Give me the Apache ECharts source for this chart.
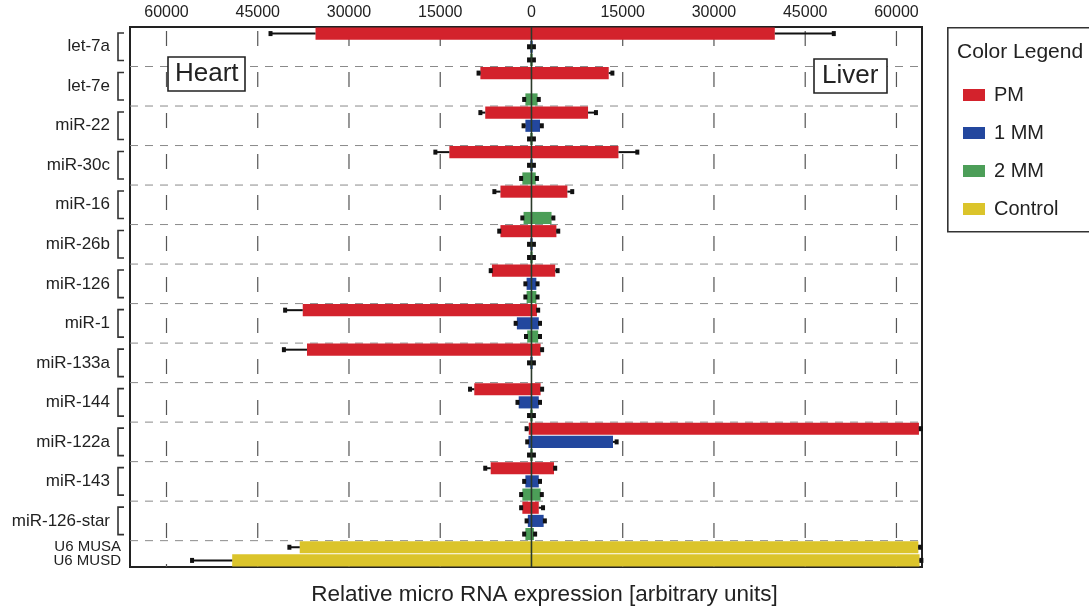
<!DOCTYPE html>
<html>
<head>
<meta charset="utf-8">
<script src="https://cdn.jsdelivr.net/npm/echarts@6/dist/echarts.min.js"></script>
<style>
  html, body { margin: 0; padding: 0; background: #ffffff; }
  #chart { width: 1089px; height: 607px; }
</style>
</head>
<body>
<div id="chart"></div>
<script>
// ---------------- DATA ----------------
const groups = ['let-7a', 'let-7e', 'miR-22', 'miR-30c', 'miR-16', 'miR-26b', 'miR-126',
  'miR-1', 'miR-133a', 'miR-144', 'miR-122a', 'miR-143', 'miR-126-star'];
const conditions = ['PM', '1 MM', '2 MM'];
const controlNames = ['U6 MUSA', 'U6 MUSD'];
const tickValues = [-60000, -45000, -30000, -15000, 0, 15000, 30000, 45000, 60000];

// Heart values are drawn to the left, liver values to the right
const pmHeart      = [35500, 8400, 7600, 13500, 5100, 5100, 6500, 37600, 36900, 9400, 450, 6700, 1500];
const pmHeartErr   = [7400, 300, 800, 2300, 1000, 200, 200, 2900, 3800, 700, 350, 900, 200];
const pmLiver      = [40000, 12700, 9300, 14300, 5900, 4100, 3900, 900, 1500, 1500, 63700, 3700, 1200];
const pmLiverErr   = [9700, 600, 1300, 3100, 800, 300, 400, 200, 250, 250, 300, 200, 700];

const mm1Heart     = [200, 0, 1000, 200, 0, 200, 800, 2400, 200, 2100, 500, 1000, 600];
const mm1HeartErr  = [200, 0, 300, 200, 0, 200, 200, 200, 200, 200, 200, 200, 200];
const mm1Liver     = [200, 0, 1400, 200, 0, 200, 800, 1200, 200, 1200, 13400, 1200, 2000];
const mm1LiverErr  = [200, 0, 300, 200, 0, 200, 200, 200, 200, 200, 600, 200, 200];

const mm2Heart     = [200, 1000, 200, 1500, 1300, 200, 800, 700, 0, 200, 200, 1500, 1000];
const mm2HeartErr  = [200, 200, 200, 200, 200, 200, 200, 200, 0, 200, 200, 200, 200];
const mm2Liver     = [200, 1000, 200, 700, 3300, 200, 800, 1100, 0, 200, 200, 1500, 400];
const mm2LiverErr  = [200, 200, 200, 200, 300, 200, 200, 300, 0, 200, 200, 200, 200];

const controlHeart    = [38100, 49200];
const controlHeartErr = [1700, 6600];
const controlLiver    = [63600, 63800];
const controlLiverErr = [300, 300];

// ---------------- BUILD ----------------
const colors = { 'PM': '#d3222c', '1 MM': '#23479e', '2 MM': '#4c9e58', 'Control': '#dbc42b' };

const rows = [];
groups.forEach((g, gi) => {
  conditions.forEach((c, ci) => {
    rows.push({ key: g + '|' + c, name: g, cond: c, gi: gi, ci: ci, type: 'mir', mid: ci === 1 });
  });
});
controlNames.forEach((n, i) => rows.push({ key: n, name: n, cond: 'Control', ci: i, type: 'ctrl' }));

const condData = {
  'PM':   { h: pmHeart,  he: pmHeartErr,  l: pmLiver,  le: pmLiverErr },
  '1 MM': { h: mm1Heart, he: mm1HeartErr, l: mm1Liver, le: mm1LiverErr },
  '2 MM': { h: mm2Heart, he: mm2HeartErr, l: mm2Liver, le: mm2LiverErr }
};

function columnFor(cond, side) {
  return rows.map(r => {
    if (r.cond !== cond) return null;
    if (r.type === 'ctrl') return side === 'h' ? -controlHeart[r.ci] : controlLiver[r.ci];
    const d = condData[cond];
    return side === 'h' ? -d.h[r.gi] : d.l[r.gi];
  });
}

const errData = [];
rows.forEach((r, ri) => {
  let h, he, l, le;
  if (r.type === 'ctrl') {
    h = controlHeart[r.ci]; he = controlHeartErr[r.ci]; l = controlLiver[r.ci]; le = controlLiverErr[r.ci];
  } else {
    const d = condData[r.cond];
    h = d.h[r.gi]; he = d.he[r.gi]; l = d.l[r.gi]; le = d.le[r.gi];
  }
  if (he > 0) errData.push([-h, -(h + he), ri]);
  if (le > 0) errData.push([l, l + le, ri]);
});

const series = [];
['PM', '1 MM', '2 MM', 'Control'].forEach(cond => {
  ['h', 'l'].forEach(side => {
    series.push({
      name: cond,
      type: 'bar',
      stack: 'all',
      barWidth: '92%',
      z: 3,
      itemStyle: { color: colors[cond] },
      data: columnFor(cond, side)
    });
  });
});

// Background: vertical dashed gridlines
series.push({
  type: 'custom',
  name: 'vgrid',
  z: 1,
  silent: true,
  encode: { x: 0, y: 1 },
  data: tickValues.filter(v => v !== 0).map(v => [v, 0]),
  renderItem: function (params, api) {
    const cs = params.coordSys;
    const x = api.coord([api.value(0), 0])[0];
    return {
      type: 'line',
      shape: { x1: x, y1: cs.y + 4, x2: x, y2: cs.y + cs.height },
      style: { stroke: '#555', lineWidth: 1.2, lineDash: [15, 26] }
    };
  }
});

// Background: group separators and brackets
series.push({
  type: 'custom',
  name: 'groups',
  z: 1,
  silent: true,
  clip: false,
  encode: { x: 0, y: [1, 2] },
  data: groups.map((g, gi) => [0, gi * 3, gi * 3 + 2]),
  renderItem: function (params, api) {
    const cs = params.coordSys;
    const band = api.size([0, 1])[1];
    const top = api.coord([0, api.value(1)])[1] - band / 2;
    const bot = api.coord([0, api.value(2)])[1] + band / 2;
    const bx = cs.x - 12;
    return {
      type: 'group',
      children: [
        {
          type: 'line',
          shape: { x1: cs.x, y1: bot, x2: cs.x + cs.width, y2: bot },
          style: { stroke: '#8a8a8a', lineWidth: 1, lineDash: [8, 7] }
        },
        {
          type: 'polyline',
          shape: { points: [[bx + 6, top + 6], [bx, top + 6], [bx, bot - 6], [bx + 6, bot - 6]] },
          style: { stroke: '#333', lineWidth: 1.6, fill: null }
        }
      ]
    };
  }
});

// Foreground: error bars
series.push({
  type: 'custom',
  name: 'errors',
  z: 6,
  silent: true,
  encode: { x: [0, 1], y: 2 },
  data: errData,
  renderItem: function (params, api) {
    const s = api.coord([api.value(0), api.value(2)]);
    const e = api.coord([api.value(1), api.value(2)]);
    return {
      type: 'group',
      children: [
        { type: 'line', shape: { x1: s[0], y1: s[1], x2: e[0], y2: e[1] }, style: { stroke: '#111', lineWidth: 2 } },
        { type: 'rect', shape: { x: e[0] - 2, y: e[1] - 2.5, width: 4, height: 5 }, style: { fill: '#111' } }
      ]
    };
  }
});

// Foreground: zero line
series.push({
  type: 'custom',
  name: 'zero',
  z: 7,
  silent: true,
  encode: { x: 0, y: 1 },
  data: [[0, 0]],
  renderItem: function (params, api) {
    const cs = params.coordSys;
    const x = api.coord([0, 0])[0];
    return {
      type: 'line',
      shape: { x1: x, y1: cs.y, x2: x, y2: cs.y + cs.height },
      style: { stroke: '#2b3a2b', lineWidth: 1.6 }
    };
  }
});

const FONT = 'Liberation Sans, Arial, sans-serif';

const option = {
  animation: false,
  backgroundColor: '#ffffff',
  textStyle: { fontFamily: FONT },
  title: [
    {
      text: 'Relative micro RNA expression [arbitrary units]',
      left: 'center', top: 578,
      textStyle: { fontSize: 22.5, fontWeight: 'normal', color: '#222', fontFamily: FONT }
    },
    {
      text: 'Heart', left: 168, top: 57,
      padding: [3, 7, 3, 7],
      borderColor: '#222', borderWidth: 1.6, backgroundColor: '#fff',
      textStyle: { fontSize: 26, fontWeight: 'normal', color: '#222', lineHeight: 28, fontFamily: FONT }
    },
    {
      text: 'Liver', left: 814, top: 59,
      padding: [3, 9, 3, 8],
      borderColor: '#222', borderWidth: 1.6, backgroundColor: '#fff',
      textStyle: { fontSize: 26, fontWeight: 'normal', color: '#222', lineHeight: 28, fontFamily: FONT }
    },
    {
      text: 'Color Legend', left: 957, top: 42,
      padding: 0,
      textStyle: { fontSize: 21, fontWeight: 'normal', color: '#222', fontFamily: FONT }
    }
  ],
  graphic: [
    {
      type: 'rect', left: 947, top: 27, z: -1,
      shape: { width: 200, height: 204 },
      style: { fill: '#fff', stroke: '#333', lineWidth: 1.6 }
    }
  ],
  legend: {
    orient: 'vertical',
    left: 958, top: 80,
    itemWidth: 22, itemHeight: 12,
    itemGap: 18,
    icon: 'rect',
    data: ['PM', '1 MM', '2 MM', 'Control'].map(n => ({ name: n, itemStyle: { color: colors[n] } })),
    textStyle: { fontSize: 20, color: '#222', lineHeight: 20, padding: [0, 0, 0, 4], fontFamily: FONT }
  },
  grid: {
    left: 130, right: 167, top: 27, bottom: 40,
    show: true, borderColor: '#222', borderWidth: 2, backgroundColor: '#fff'
  },
  xAxis: {
    type: 'value',
    position: 'top',
    min: -66000, max: 64200,
    axisLine: { show: false },
    axisTick: { show: false },
    splitLine: { show: false },
    axisLabel: {
      customValues: tickValues,
      margin: 6,
      fontSize: 16, color: '#222', fontFamily: FONT,
      formatter: v => String(Math.abs(v))
    }
  },
  yAxis: {
    type: 'category',
    inverse: true,
    data: rows.map(r => r.key),
    axisLine: { show: false },
    axisTick: { show: false },
    splitLine: { show: false },
    axisLabel: {
      interval: 0,
      margin: 9,
      fontFamily: FONT,
      formatter: function (val, idx) {
        const r = rows[idx];
        if (!r) return '';
        if (r.type === 'ctrl') return '{c|' + r.name + '}';
        if (r.mid) return '{g|' + r.name + '}';
        return '';
      },
      rich: {
        g: { fontSize: 17, color: '#222', padding: [0, 11, 0, 0], fontFamily: FONT },
        c: { fontSize: 15, color: '#222', fontFamily: FONT }
      }
    }
  },
  series: series
};

const chart = echarts.init(document.getElementById('chart'), null, { renderer: 'canvas' });
chart.setOption(option);
</script>
</body>
</html>
